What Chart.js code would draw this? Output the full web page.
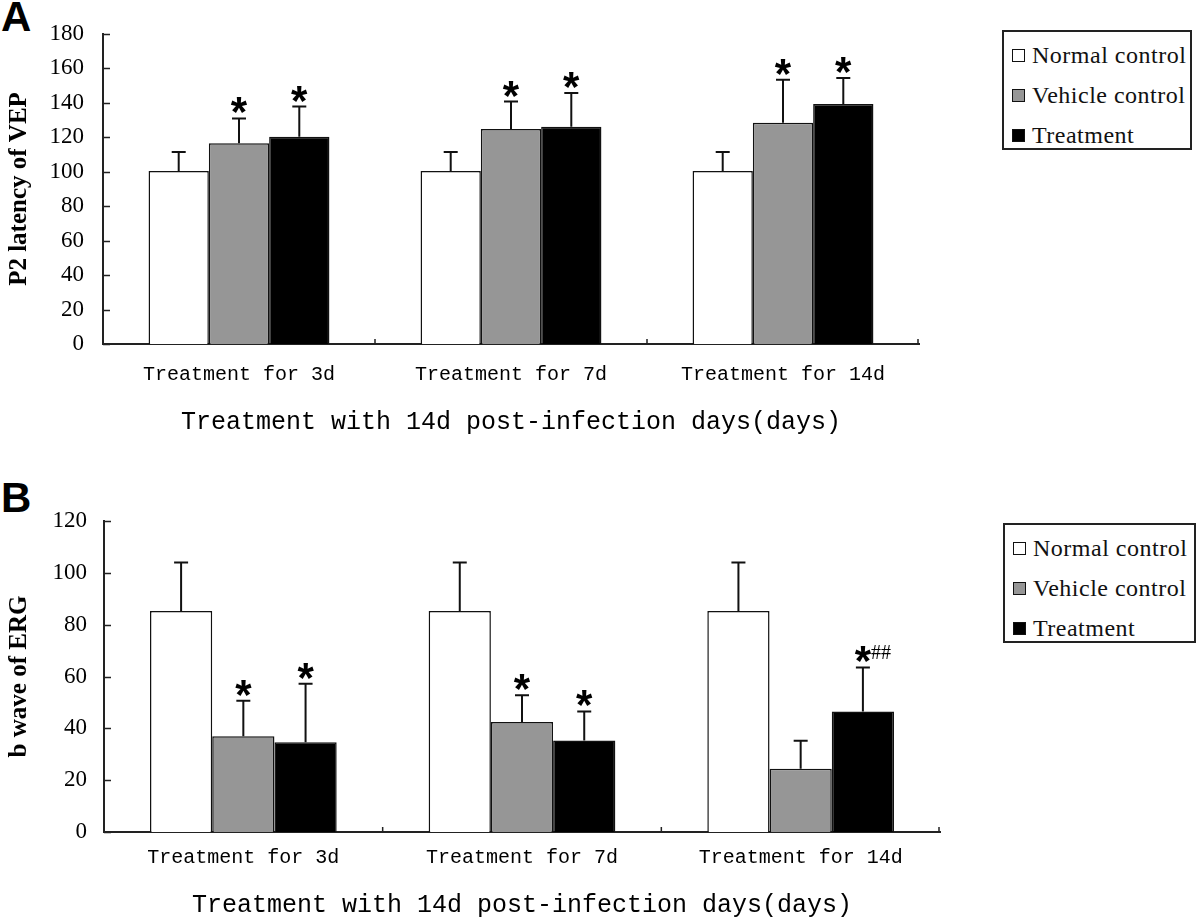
<!DOCTYPE html>
<html>
<head>
<meta charset="utf-8">
<script src="https://cdn.jsdelivr.net/npm/chart.js@4.4.1/dist/chart.umd.min.js"></script>
<style>
  body { margin: 0; background: #fff; width: 1200px; height: 923px; position: relative; overflow: hidden; }
  .panel { position: absolute; left: 0; width: 1200px; }
  .tag { position: absolute; left: 1px; font: bold 42px "Liberation Sans", Arial, sans-serif; line-height: 42px; color: #000; }
  .legend { position: absolute; margin: 0; padding: 3px 0 0 8px; list-style: none; box-sizing: border-box;
            border: 2px solid #222; background: #fff; font-family: "Liberation Serif", serif; }
  .legend li { height: 40px; display: flex; align-items: center; font-size: 24px; letter-spacing: 0.5px; color: #111; }
  .legend-dot { width: 13px; height: 13px; border: 1.5px solid #111; box-sizing: border-box; margin-right: 7px; }
</style>
</head>
<body>
<div class="tag" style="top:-4px">A</div>
<div class="panel" style="top:0;height:460px"><canvas id="chartA" width="1200" height="460"></canvas></div>
<ul class="legend" id="legendA" style="left:1002px;top:30px;width:190px;height:120px"></ul>

<div class="tag" style="top:477px">B</div>
<div class="panel" style="top:460px;height:463px"><canvas id="chartB" width="1200" height="463"></canvas></div>
<ul class="legend" id="legendB" style="left:1003px;top:523px;width:193px;height:120px"></ul>

<script>
// ---------- data ----------
const groupLabels = ["Treatment for 3d", "Treatment for 7d", "Treatment for 14d"];
const seriesNames = ["Normal control", "Vehicle control", "Treatment"];
const seriesColors = ["#ffffff", "#969696", "#000000"];
const xTitle = "Treatment with 14d post-infection days(days)";

// panel A: P2 latency of VEP
const normalA = [100.5, 100.5, 100.5];
const vehicleA = [116.5, 124.8, 128.5];
const treatA = [120.4, 126.2, 139.4];
const normalErrA = [11, 11, 11];
const vehicleErrA = [14.5, 16, 25];
const treatErrA = [17.5, 19.5, 15];
const normalSigA = ["", "", ""];
const vehicleSigA = ["*", "*", "*"];
const treatSigA = ["*", "*", "*"];
const yMaxA = 180;

// panel B: b wave of ERG
const normalB = [85.3, 85.3, 85.3];
const vehicleB = [36.9, 42.4, 24.4];
const treatB = [34.6, 35.3, 46.5];
const normalErrB = [18.7, 18.7, 18.7];
const vehicleErrB = [13.7, 10.4, 10.8];
const treatErrB = [22.6, 11.2, 17];
const normalSigB = ["", "", ""];
const vehicleSigB = ["*", "*", ""];
const treatSigB = ["*", "*", "*##"];
const yMaxB = 120;
const yStep = 20;

// ---------- plugins ----------
function drawMark(ctx, mark, x, bottom) {
  const star = mark[0];
  const rest = mark.slice(1);
  ctx.fillStyle = "#000";
  ctx.font = 'bold 42px "Liberation Sans"';
  const m = ctx.measureText(star);
  const base = bottom - m.actualBoundingBoxDescent;
  ctx.textAlign = "center";
  ctx.textBaseline = "alphabetic";
  ctx.fillText(star, x, base);
  if (rest) {
    ctx.font = '20px "Liberation Serif"';
    ctx.textAlign = "left";
    ctx.fillText(rest, x + 8, bottom - 3);
  }
}

const errorBars = {
  id: "errorBars",
  afterDatasetsDraw(chart) {
    const { ctx, scales: { y } } = chart;
    ctx.save();
    chart.data.datasets.forEach((ds, i) => {
      chart.getDatasetMeta(i).data.forEach((bar, j) => {
        const top = y.getPixelForValue(ds.data[j] + ds.errors[j]);
        ctx.strokeStyle = "#111";
        ctx.lineWidth = 2;
        ctx.beginPath();
        ctx.moveTo(bar.x, bar.y);
        ctx.lineTo(bar.x, top);
        ctx.moveTo(bar.x - 7, top);
        ctx.lineTo(bar.x + 7, top);
        ctx.stroke();
        if (ds.marks[j]) drawMark(ctx, ds.marks[j], bar.x, top - 5);
      });
    });
    ctx.restore();
  }
};

// tick marks point into the plot, like the original
const innerTicks = {
  id: "innerTicks",
  afterDraw(chart) {
    const { ctx, chartArea: a, scales: { x, y } } = chart;
    ctx.save();
    ctx.strokeStyle = "#222";
    ctx.lineWidth = 1.5;
    ctx.beginPath();
    y.ticks.forEach((t) => {
      const py = Math.round(y.getPixelForValue(t.value)) + 0.5;
      ctx.moveTo(a.left, py);
      ctx.lineTo(a.left + 7, py);
    });
    const n = x.ticks.length;
    for (let i = 1; i <= n; i++) {
      const px = i < n ? (x.getPixelForValue(i - 1) + x.getPixelForValue(i)) / 2 : a.right - 1;
      ctx.moveTo(px, a.bottom);
      ctx.lineTo(px, a.bottom - 5);
    }
    ctx.stroke();
    ctx.restore();
  }
};

// ---------- charts ----------
function renderLegend(targetId) {
  const el = document.getElementById(targetId);
  el.innerHTML = seriesNames
    .map((name, i) => `<li><span class="legend-dot" style="background:${seriesColors[i]}"></span>${name}</li>`)
    .join("");
}

function buildChart(canvasId, p) {
  return new Chart(document.getElementById(canvasId), {
    type: "bar",
    data: {
      labels: groupLabels,
      datasets: p.values.map((vals, i) => ({
        label: seriesNames[i],
        data: vals,
        errors: p.errors[i],
        marks: p.marks[i],
        backgroundColor: seriesColors[i],
        borderColor: "#111",
        borderWidth: 1.5,
        categoryPercentage: p.catPct,
        barPercentage: 1
      }))
    },
    options: {
      responsive: false,
      animation: false,
      devicePixelRatio: 1,
      layout: { padding: { top: p.padTop, right: p.padRight, left: 0, bottom: 0 } },
      plugins: { legend: { display: false }, tooltip: { enabled: false } },
      scales: {
        x: {
          grid: { display: false, drawTicks: false },
          border: { color: "#222", width: 2 },
          ticks: { color: "#000", padding: p.xTickPad, font: { family: "Liberation Mono", size: 20 } },
          title: {
            display: true, text: xTitle, color: "#000",
            font: { family: "Liberation Mono", size: 25 },
            padding: { top: 0, bottom: p.xTitlePad }
          },
          afterFit: (s) => { s.height = p.xHeight; }
        },
        y: {
          min: 0,
          max: p.yMax,
          grid: { display: false, drawTicks: false },
          border: { color: "#222", width: 2 },
          ticks: { stepSize: yStep, color: "#000", padding: p.yTickPad, font: { family: "Liberation Serif", size: 23 } },
          title: {
            display: true, text: p.yTitle, color: "#000",
            font: { family: "Liberation Serif", size: 25, weight: "bold" },
            padding: { top: 5, bottom: 0 }
          },
          afterFit: (s) => { s.width = p.yWidth; }
        }
      }
    },
    plugins: [errorBars, innerTicks]
  });
}

buildChart("chartA", {
  values: [normalA, vehicleA, treatA],
  errors: [normalErrA, vehicleErrA, treatErrA],
  marks: [normalSigA, vehicleSigA, treatSigA],
  yMax: yMaxA,
  yTitle: "P2 latency of VEP",
  catPct: 0.665,
  padTop: 34,
  padRight: 281,
  xHeight: 116,
  xTickPad: 19,
  xTitlePad: 23,
  yTickPad: 19,
  yWidth: 103
});

buildChart("chartB", {
  values: [normalB, vehicleB, treatB],
  errors: [normalErrB, vehicleErrB, treatErrB],
  marks: [normalSigB, vehicleSigB, treatSigB],
  yMax: yMaxB,
  yTitle: "b wave of ERG",
  catPct: 0.67,
  padTop: 61,
  padRight: 260,
  xHeight: 91,
  xTickPad: 14,
  xTitlePad: 3,
  yTickPad: 17,
  yWidth: 104
});

renderLegend("legendA");
renderLegend("legendB");
</script>
</body>
</html>
